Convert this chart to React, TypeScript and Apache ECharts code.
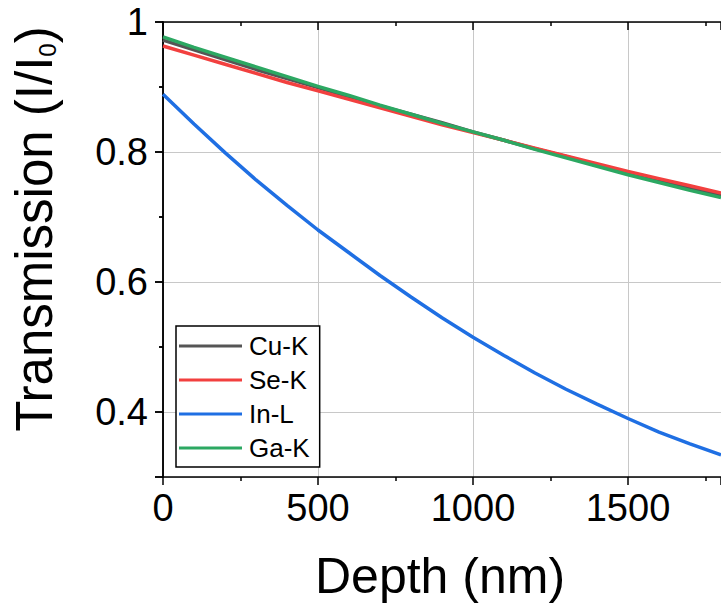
import React, { useEffect, useRef } from "react";
import * as echarts from "echarts";

const depth = [0, 100, 200, 300, 400, 500, 600, 700, 800, 900, 1000, 1100, 1200, 1300, 1400, 1500, 1600, 1700, 1800];
const cuK = [0.972, 0.957, 0.942, 0.927, 0.913, 0.899, 0.885, 0.871, 0.858, 0.845, 0.831, 0.818, 0.805, 0.793, 0.780, 0.768, 0.756, 0.744, 0.733];
const seK = [0.963, 0.949, 0.935, 0.921, 0.907, 0.894, 0.881, 0.868, 0.855, 0.842, 0.830, 0.818, 0.806, 0.794, 0.782, 0.770, 0.759, 0.748, 0.737];
const inL = [0.889, 0.843, 0.799, 0.757, 0.718, 0.680, 0.645, 0.610, 0.577, 0.545, 0.515, 0.487, 0.460, 0.435, 0.412, 0.390, 0.369, 0.351, 0.334];
const gaK = [0.977, 0.961, 0.946, 0.931, 0.916, 0.901, 0.887, 0.872, 0.858, 0.844, 0.831, 0.818, 0.804, 0.791, 0.778, 0.765, 0.753, 0.741, 0.730];

const seriesNames = ["Cu-K", "Se-K", "In-L", "Ga-K"];
const seriesValues = [cuK, seK, inL, gaK];
const seriesColors = ["#555555", "#f2403f", "#1f6fe3", "#2ca862"];

const xTitle = "Depth (nm)";
const yTitle = "Transmission (I/I{sub|0})";

const FONT = "Arial, 'Liberation Sans', sans-serif";

export default function App() {
  const ref = useRef<HTMLDivElement>(null);
  useEffect(() => {
    if (!ref.current) return;
    const chart = echarts.init(ref.current, undefined, { renderer: "svg" });
    const axisLine = { show: true, lineStyle: { color: "#000", width: 1.5 } };
    const gridLine = { show: true, lineStyle: { color: "#c8c8c8", width: 1 } };
    chart.setOption({
      animation: false,
      backgroundColor: "#fff",
      grid: { left: 163, right: -4, top: 22, bottom: 130, containLabel: false },
      xAxis: [
        {
          type: "value",
          position: "bottom",
          min: 0,
          max: 1800,
          interval: 500,
          axisLine,
          axisTick: { show: true, inside: false, length: 8, lineStyle: { color: "#000", width: 1.5 } },
          minorTick: { show: true, splitNumber: 2, length: 4, lineStyle: { color: "#000", width: 1.5 } },
          axisLabel: {
            show: true,
            fontSize: 38,
            color: "#000",
            fontFamily: FONT,
            margin: 12,
            showMaxLabel: false,
            formatter: (v: number) => String(v),
          },
          splitLine: gridLine,
        },
        {
          type: "value",
          position: "top",
          min: 0,
          max: 1800,
          interval: 500,
          axisLine,
          axisTick: { show: true, inside: true, length: 8, lineStyle: { color: "#000", width: 1.5 } },
          minorTick: { show: true, splitNumber: 2, length: 4, lineStyle: { color: "#000", width: 1.5 } },
          axisLabel: { show: false },
          splitLine: { show: false },
        },
      ],
      yAxis: [
        {
          type: "value",
          position: "left",
          min: 0.3,
          max: 1,
          splitNumber: 4,
          axisLine,
          axisTick: { show: true, inside: false, length: 8, lineStyle: { color: "#000", width: 1.5 } },
          minorTick: { show: true, splitNumber: 2, length: 4, lineStyle: { color: "#000", width: 1.5 } },
          axisLabel: {
            show: true,
            fontSize: 38,
            color: "#000",
            fontFamily: FONT,
            margin: 15,
            showMinLabel: false,
            formatter: (v: number) => (Math.abs(v - 1) < 1e-9 ? "1" : String(Math.round(v * 10) / 10)),
          },
          splitLine: gridLine,
        },
        {
          type: "value",
          position: "right",
          min: 0.3,
          max: 1,
          splitNumber: 4,
          axisLine,
          axisTick: { show: true, inside: true, length: 8, lineStyle: { color: "#000", width: 1.5 } },
          minorTick: { show: true, splitNumber: 2, length: 4, lineStyle: { color: "#000", width: 1.5 } },
          axisLabel: { show: false },
          splitLine: { show: false },
        },
      ],
      legend: {
        show: true,
        orient: "vertical",
        left: 176,
        top: 326,
        icon: "rect",
        itemWidth: 63,
        itemHeight: 3,
        itemGap: 8,
        padding: [7, 10, 6, 3],
        borderColor: "#000",
        borderWidth: 1.5,
        backgroundColor: "#fff",
        textStyle: { fontSize: 26, color: "#000", fontFamily: FONT, padding: [0, 0, 0, 2] },
        data: seriesNames,
      },
      series: seriesNames.map((name, i) => ({
        name,
        type: "line",
        xAxisIndex: 0,
        yAxisIndex: 0,
        data: depth.map((d, j) => [d, seriesValues[i][j]]),
        showSymbol: false,
        symbol: "none",
        smooth: false,
        color: seriesColors[i],
        lineStyle: { color: seriesColors[i], width: 3.5 },
        z: 2 + i,
      })),
      graphic: [
        {
          type: "text",
          x: 440,
          y: 576,
          style: {
            text: xTitle,
            fontSize: 50,
            fontFamily: FONT,
            fill: "#000",
            align: "center",
            verticalAlign: "middle",
          },
        },
        {
          type: "text",
          x: 34,
          y: 229,
          rotation: Math.PI / 2,
          style: {
            text: yTitle,
            fontSize: 51,
            fontFamily: FONT,
            fill: "#000",
            align: "center",
            verticalAlign: "middle",
            rich: {
              sub: { fontSize: 24, fontFamily: FONT, fill: "#000", verticalAlign: "bottom" },
            },
          },
        },
      ],
    });
    return () => chart.dispose();
  }, []);
  return (
    <div
      ref={ref}
      style={{ position: "fixed", left: 0, top: 0, width: 721, height: 607, background: "#fff" }}
    />
  );
}
